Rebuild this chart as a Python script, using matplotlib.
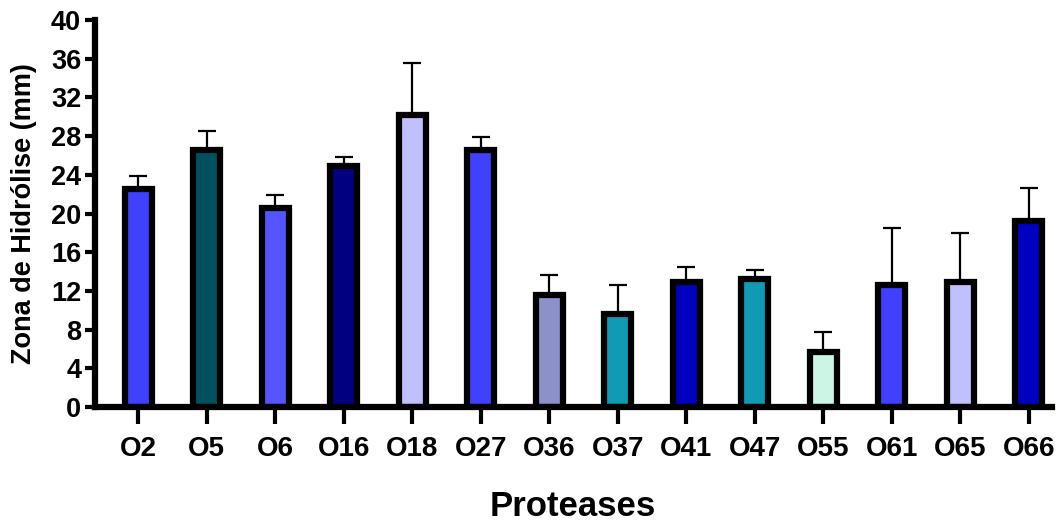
import matplotlib
matplotlib.use("Agg")
import matplotlib.pyplot as plt
import numpy as np

plt.rcParams['font.family'] = ['Liberation Sans', 'DejaVu Sans']
plt.rcParams['font.weight'] = 'bold'

# data
proteases = ["O2", "O5", "O6", "O16", "O18", "O27", "O36", "O37",
             "O41", "O47", "O55", "O61", "O65", "O66"]
hydrolysis = [22.5, 26.6, 20.6, 24.9, 30.2, 26.6, 11.6, 9.6,
              12.9, 13.2, 5.7, 12.6, 12.9, 19.2]
errors = [1.4, 1.9, 1.3, 0.9, 5.4, 1.3, 2.0, 3.0,
          1.6, 1.0, 2.0, 5.9, 5.1, 3.4]
colors = ["#4040FF", "#01505F", "#5555FF", "#000080", "#C0C0FF", "#4040FF",
          "#8C90CC", "#109AB4", "#0000C0", "#109AB4", "#CCF5E6", "#4040FF",
          "#C0C0FF", "#0000C0"]
yticks = np.arange(0, 41, 4)

fig = plt.figure(figsize=(10.62, 5.24), dpi=100)
ax = fig.add_axes([0.0895, 0.2233, 0.9011, 0.7385])

x = np.arange(len(proteases))
ax.errorbar(x, hydrolysis, yerr=[np.zeros(len(errors)), errors], fmt='none',
            ecolor='black', elinewidth=1.6, capsize=6.5, capthick=1.6, zorder=1)
ax.bar(x, hydrolysis, width=0.40, color=colors, edgecolor='black',
       linewidth=4.5, zorder=2)

ax.set_xlim(-0.63, 13.34)
ax.set_ylim(0, 40)
ax.set_yticks(yticks)
ax.set_xticks(x)
ax.set_xticklabels(proteases)

for side in ['top', 'right']:
    ax.spines[side].set_visible(False)
for side in ['left', 'bottom']:
    ax.spines[side].set_linewidth(4.5)
ax.spines['left'].set_bounds(0, 40)

ax.tick_params(axis='y', length=7, width=3, pad=3, labelsize=19.5)
ax.tick_params(axis='x', length=12, width=3, pad=9, labelsize=20)
for lab in ax.get_xticklabels() + ax.get_yticklabels():
    lab.set_fontweight('bold')

ax.set_ylabel("Zona de Hidrólise (mm)", fontsize=19.5, fontweight='bold', labelpad=10)
# x title placed by hand so it stays inside the figure
fig.text(0.5395, 8.5 / 524, "Proteases", fontsize=25, fontweight='bold',
         ha='center', va='baseline')

fig.savefig("out.png", dpi=100)
